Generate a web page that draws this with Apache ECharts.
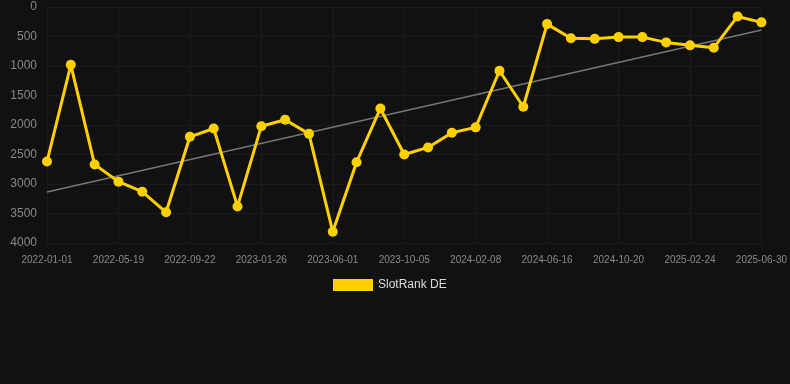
<!DOCTYPE html>
<html>
<head>
<meta charset="utf-8">
<script src="https://cdn.jsdelivr.net/npm/echarts@6/dist/echarts.min.js"></script>
<style>
  html, body { margin: 0; padding: 0; background: #111111; }
  #chart { width: 790px; height: 384px; }
</style>
</head>
<body>
<div id="chart"></div>
<script>
  // categories (only every 3rd is labelled on the axis)
  const dates = [
    '2022-01-01', '2022-02-16', '2022-04-03', '2022-05-19', '2022-07-02', '2022-08-13',
    '2022-09-22', '2022-11-03', '2022-12-15', '2023-01-26', '2023-03-09', '2023-04-20',
    '2023-06-01', '2023-07-13', '2023-08-24', '2023-10-05', '2023-11-16', '2023-12-28',
    '2024-02-08', '2024-03-22', '2024-05-04', '2024-06-16', '2024-07-28', '2024-09-08',
    '2024-10-20', '2024-12-01', '2025-01-12', '2025-02-24', '2025-04-08', '2025-05-19',
    '2025-06-30'
  ];
  const rankDE = [
    2620, 980, 2670, 2960, 3130, 3480, 2200, 2060, 3380, 2020, 1910, 2150,
    3810, 2630, 1720, 2500, 2380, 2130, 2040, 1080, 1690, 290, 530, 540,
    510, 510, 600, 650, 690, 160, 260
  ];
  // trend line end points (first and last category)
  const trendEnds = [3135, 390];

  const trendData = dates.map((d, i) => {
    if (i === 0) return trendEnds[0];
    if (i === dates.length - 1) return trendEnds[1];
    return '-';
  });

  const chart = echarts.init(document.getElementById('chart'));
  chart.setOption({
    backgroundColor: '#111111',
    animation: false,
    grid: {
      left: 47,
      right: 28,
      top: 7,
      bottom: 141
    },
    legend: {
      data: [{ name: 'SlotRank DE', icon: 'rect' }],
      left: 328,
      top: 274,
      itemWidth: 40,
      itemHeight: 12,
      textStyle: { color: '#dddddd', fontSize: 12 }
    },
    xAxis: {
      type: 'category',
      data: dates,
      boundaryGap: false,
      axisLine: { show: false },
      axisTick: { show: false },
      axisLabel: {
        interval: 2,
        color: '#888888',
        fontSize: 10,
        margin: 12
      },
      splitLine: {
        show: true,
        interval: 2,
        lineStyle: { color: '#1b1b1b' }
      }
    },
    yAxis: {
      type: 'value',
      inverse: true,
      min: 0,
      max: 4000,
      interval: 500,
      axisLine: { show: false },
      axisTick: { show: false },
      axisLabel: {
        color: '#888888',
        fontSize: 12,
        margin: 10,
        formatter: (v) => String(v)
      },
      splitLine: { lineStyle: { color: '#1b1b1b' } }
    },
    series: [
      {
        name: 'trend',
        type: 'line',
        data: trendData,
        connectNulls: true,
        showSymbol: false,
        symbol: 'none',
        silent: true,
        lineStyle: { color: '#777777', width: 1.5 },
        z: 1
      },
      {
        name: 'SlotRank DE',
        type: 'line',
        data: rankDE,
        symbol: 'circle',
        symbolSize: 10,
        itemStyle: { color: '#FFD000' },
        lineStyle: { color: '#FFD000', width: 3 },
        z: 2
      }
    ]
  });
</script>
</body>
</html>
